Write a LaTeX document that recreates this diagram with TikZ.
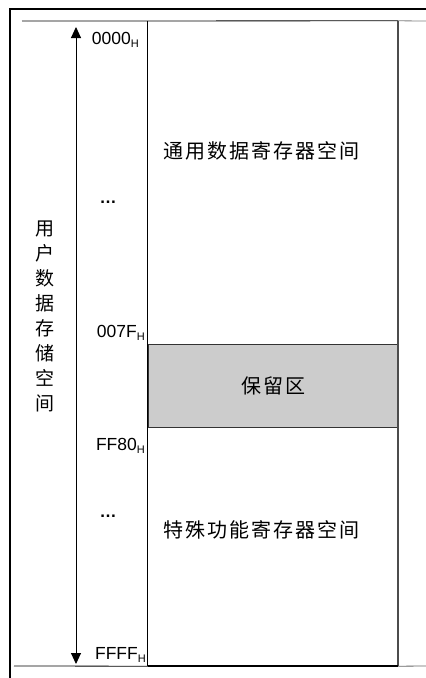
\documentclass[tikz,border=0pt]{standalone}
\usepackage{fontspec}
\setmainfont{Liberation Sans}
\newfontfamily\cjk[LetterSpace=10]{Noto Sans CJK SC}
\usetikzlibrary{arrows.meta}

\begin{document}
\begin{tikzpicture}[x=1pt,y=-1pt]
\useasboundingbox (0,0) rectangle (426,678);
\path (273,182.5) node(gen)[rectangle,minimum width=250pt,minimum height=323pt,inner sep=0pt]{}
(273,385.5) node(resv)[rectangle,draw=black!80,fill=black!20,line width=0.8pt,minimum width=250pt,minimum height=83pt,inner sep=0pt,font=\cjk\fontsize{20pt}{24pt}\selectfont]{保留区}
(273,546.5) node(spec)[rectangle,minimum width=250pt,minimum height=239pt,inner sep=0pt]{}
(163,151) node(gentext)[anchor=west,inner sep=0pt,font=\cjk\fontsize{20pt}{24pt}\selectfont]{通用数据寄存器空间}
(163,530) node(spectext)[anchor=west,inner sep=0pt,font=\cjk\fontsize{20pt}{24pt}\selectfont]{特殊功能寄存器空间}
(45,316) node(user)[align=center,inner sep=0pt,font=\cjk\fontsize{19pt}{25pt}\selectfont]{用\\户\\数\\据\\存\\储\\空\\间}
(139,44) node(a0)[anchor=base east,inner sep=0pt,font=\fontsize{17.5pt}{19pt}\selectfont]{0000\raisebox{-3pt}{\fontsize{11pt}{11pt}\selectfont H}}
(145,337) node(a1)[anchor=base east,inner sep=0pt,font=\fontsize{17.5pt}{19pt}\selectfont]{007F\raisebox{-3pt}{\fontsize{11pt}{11pt}\selectfont H}}
(145,450) node(a2)[anchor=base east,inner sep=0pt,font=\fontsize{17.5pt}{19pt}\selectfont]{FF80\raisebox{-3pt}{\fontsize{11pt}{11pt}\selectfont H}}
(146,659) node(a3)[anchor=base east,inner sep=0pt,font=\fontsize{17.5pt}{19pt}\selectfont]{FFFF\raisebox{-3pt}{\fontsize{11pt}{11pt}\selectfont H}}
(108,203) node(dots1)[anchor=base,inner sep=0pt,font=\bfseries\fontsize{17pt}{19pt}\selectfont]{…}
(108,517) node(dots2)[anchor=base,inner sep=0pt,font=\bfseries\fontsize{17pt}{19pt}\selectfont]{…};
\coordinate (atop) at (76,27);
\coordinate (abot) at (76,664);
% frame
\draw[line width=2pt](10,678)--(10,9)--(426,9);
\draw[line width=0.8pt](22,21)--(gen.north east);
\draw[line width=0.8pt,black!50](gen.north east)--(426,21);
\draw[line width=0.8pt](gen.north west)--(spec.south west);
\draw[line width=1.5pt,black!70](gen.north east)--(spec.south east);
\draw[line width=0.8pt](14,666)--(spec.south west);
\draw[line width=1.6pt](spec.south west)--(spec.south east);
\draw[line width=0.8pt,black!60](spec.south east)--(426,666);
% address range
\draw[line width=0.9pt,{Triangle[length=11pt,width=10pt]}-{Triangle[length=11pt,width=10pt]}](atop)--(abot);
\end{tikzpicture}
\end{document}
